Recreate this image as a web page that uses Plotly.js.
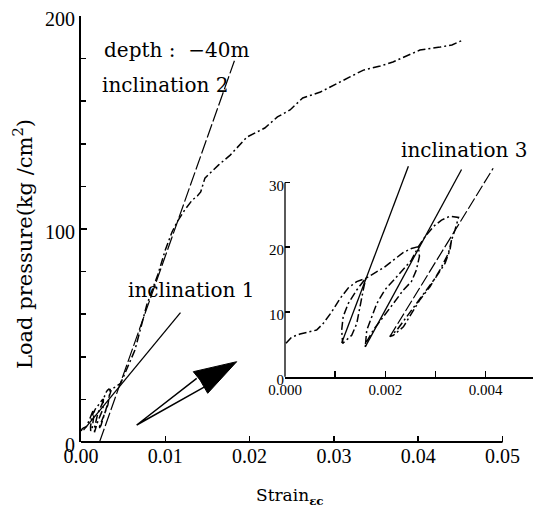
<!DOCTYPE html>
<html>
<head>
<meta charset="utf-8">
<script src="https://cdn.plot.ly/plotly-3.0.1.min.js"></script>
<style>html,body{margin:0;padding:0;background:#fff;}#chart{width:533px;height:508px;}</style>
</head>
<body>
<div id="chart"></div>
<script>
// Early loading / unloading loops (strain, load pressure kg/cm2) — shown in inset and main plot
var loopX = [0.00002,0.00013,0.0003,0.0005,0.00063,0.00076,0.00093,0.0011,0.00126,0.00143,0.00161,
  0.00156,0.0015,0.00143,0.00133,0.0012,0.00115,
  0.00113,0.00116,0.00126,0.00143,0.00156,0.00161,
  0.00176,0.00196,0.00216,0.00236,0.00252,0.00266,
  0.00268,0.00262,0.00252,0.00236,0.00216,0.00196,0.00176,0.00161,
  0.0016,0.00163,0.00173,0.00183,0.00199,0.00216,0.00236,0.00252,0.00266,
  0.00279,0.00296,0.00312,0.00329,0.00346,
  0.00339,0.00332,0.00329,0.00319,0.00302,0.00282,0.00262,0.00243,0.00223,0.00209,
  0.00216,0.00236,0.00252,0.00269,0.00289,0.00309,0.00326,0.00332];
var loopY = [5.15,6.1,6.6,6.9,7.2,8.2,10.0,12.1,13.7,14.7,15.2,
  13.4,10.8,8.2,6.4,5.6,5.15,
  7.2,9.3,11.3,13.4,14.7,15.2,
  15.9,16.8,18.0,19.2,19.8,20.1,
  18.6,16.5,14.7,13.4,11.3,9.3,7.2,5.15,
  4.6,7.2,9.3,11.3,13.4,14.9,16.5,18.0,20.1,
  21.6,23.2,24.2,24.8,24.6,
  22.7,21.1,19.6,17.5,15.5,13.4,11.3,9.3,7.2,6.2,
  6.4,7.7,9.8,11.9,13.9,16.5,19.1,21.1];
// Continuation of the loading curve up to failure
var envX = [0.0036,0.0042,0.0047,0.0064,0.0078,0.0091,0.0100,0.0108,0.0114,0.0123,0.0132,0.0138,0.0142,
  0.0147,0.0153,0.0163,0.0177,0.0197,0.0218,0.0233,0.0248,0.0263,0.0284,0.0304,0.0319,0.0335,
  0.0355,0.0370,0.0390,0.0402,0.0426,0.0440,0.0453];
var envY = [24.5,26.3,27.5,43.2,64.3,78.4,90.1,98.6,103.3,108.9,113.6,115.5,117.4,
  123.9,126.3,130.0,134.7,143.2,147.4,152.6,155.9,161.5,164.3,168.5,171.4,174.6,
  176.5,178.4,181.7,184.0,185.4,186.4,188.7];
// Tangent lines
var incl1X = [0.0003, 0.0118], incl1Y = [5.6, 60.7];
var incl2X = [0.0022, 0.0182], incl2Y = [0, 179];
var incl3aX = [0.00113, 0.00246], incl3aY = [5.2, 32.5];
var incl3bX = [0.0016, 0.00352], incl3bY = [4.6, 32.0];
var incl3cX = [0.00209, 0.00415], incl3cY = [6.2, 32.2];
// Axis ticks (labels every dtick, minor ticks between)
var mainXStep = 0.01, mainYStep = 100, mainYMinor = 20;
var insetXStep = 0.002, insetXMinor = 0.001, insetYStep = 10;

var serif = 'DejaVu Serif, serif';
var tickSerif = 'Liberation Serif, serif';
var curveLine = {color:'#000', width:1.5, dash:'8px,3px,2px,3px'};

var mainCurveX = loopX.concat(envX), mainCurveY = loopY.concat(envY);

var traces = [
  {x: mainCurveX, y: mainCurveY, mode:'lines', line: curveLine, xaxis:'x', yaxis:'y'},
  {x: incl1X, y: incl1Y, mode:'lines', line:{color:'#000', width:1.3}, xaxis:'x', yaxis:'y'},
  {x: incl2X, y: incl2Y, mode:'lines', line:{color:'#000', width:1.2, dash:'14px,3px'}, xaxis:'x', yaxis:'y'},
  {x: loopX, y: loopY, mode:'lines', line: curveLine, xaxis:'x2', yaxis:'y2'},
  {x: incl3aX, y: incl3aY, mode:'lines', line:{color:'#000', width:1.3}, xaxis:'x2', yaxis:'y2'},
  {x: incl3bX, y: incl3bY, mode:'lines', line:{color:'#000', width:1.3}, xaxis:'x2', yaxis:'y2'},
  {x: incl3cX, y: incl3cY, mode:'lines', line:{color:'#000', width:1.2, dash:'12px,3px'}, xaxis:'x2', yaxis:'y2'}
];

var W = 533, H = 508, ML = 81, MR = 0, MT = 16, MB = 66;
var pw = W - ML - MR, ph = H - MT - MB;
function px2paper(p){ return [(p[0]-ML)/pw, (H-MB-p[1])/ph]; }
function pathFrom(pts, close){
  var s = pts.map(function(p,i){ var q = px2paper(p); return (i?'L':'M') + q[0].toFixed(5) + ',' + q[1].toFixed(5); }).join(' ');
  return close ? s + ' Z' : s;
}
var xMax = (W - MR - ML) / 8430;   // main x-axis: 84.3 px per 0.01
var insetLeft = 285, insetXMax = (W - insetLeft) / 50160;
var insetBottom = 376.7, insetPxPerUnit = 6.473, insetYTop = 33, insetAxisTop = 30;
var insetTopPx = insetBottom - insetYTop * insetPxPerUnit;
var insetAxisTopPx = insetBottom - insetAxisTop * insetPxPerUnit;

var shapes = [
  // main x-axis line, ending at 0.05
  {type:'line', xref:'paper', yref:'paper', x0:0, x1:0.05/xMax, y0:0, y1:0, line:{color:'#000', width:2}},
  // inset y-axis line, 0..30
  {type:'line', xref:'paper', yref:'paper', x0:(insetLeft-ML)/pw, x1:(insetLeft-ML)/pw,
   y0:(H-MB-insetBottom)/ph, y1:(H-MB-insetAxisTopPx)/ph, line:{color:'#000', width:1.3}},
  // arrow shaft (hollow wedge)
  {type:'path', xref:'paper', yref:'paper', path: pathFrom([[196.7,378.3],[136.7,425],[205,386.7]], false), line:{color:'#000', width:1.5}},
  // arrow head
  {type:'path', xref:'paper', yref:'paper', path: pathFrom([[236.7,361.7],[193.3,371.7],[200,380],[207.7,393.3]], true), fillcolor:'#000', line:{color:'#000', width:1}}
];

var annFont = {family: serif, size: 20, color:'#000'};
var annotations = [
  {xref:'x', yref:'y', x:0.00249, y:184, xanchor:'left', yanchor:'middle', text:'depth :  −40m', showarrow:false, font:annFont},
  {xref:'x', yref:'y', x:0.00225, y:167.6, xanchor:'left', yanchor:'middle', text:'inclination 2', showarrow:false, font:annFont},
  {xref:'x', yref:'y', x:0.00534, y:71.4, xanchor:'left', yanchor:'middle', text:'inclination 1', showarrow:false, font:annFont},
  {xref:'x', yref:'y', x:0.03772, y:137.1, xanchor:'left', yanchor:'middle', text:'inclination 3', showarrow:false, font:annFont},
  {xref:'paper', yref:'paper', x:(23-ML)/pw, y:(H-MB-244)/ph, xanchor:'center', yanchor:'middle', textangle:-90,
   text:'Load pressure(kg /cm<sup>2</sup>)', showarrow:false, font:{family: serif, size:21, color:'#000'}},
  {xref:'paper', yref:'paper', x:(290-ML)/pw, y:(H-MB-496)/ph, xanchor:'center', yanchor:'middle',
   text:'Strain<sub><b>εc</b></sub>', showarrow:false, font:{family: serif, size:17, color:'#000'}}
];

var tickBase = {ticks:'inside', tickcolor:'#000', showgrid:false, zeroline:false, fixedrange:true};
var layout = {
  width: W, height: H,
  margin: {l: ML, r: MR, t: MT, b: MB, pad: 0},
  paper_bgcolor: '#fff', plot_bgcolor: 'rgba(0,0,0,0)',
  showlegend: false,
  xaxis: Object.assign({}, tickBase, {range:[0, xMax], showline:false,
    tickmode:'linear', tick0:0, dtick: mainXStep, tickformat:'.2f', ticklen:6, tickwidth:1.5,
    tickfont:{family: tickSerif, size:20, color:'#000'}}),
  yaxis: Object.assign({}, tickBase, {range:[0, 200], showline:true, linewidth:2, linecolor:'#000',
    tickmode:'linear', tick0:0, dtick: mainYStep, ticklen:6, tickwidth:1.5, ticklabelshift:3,
    minor:{tick0:0, dtick: mainYMinor, ticks:'inside', ticklen:5, tickwidth:1.5, tickcolor:'#000', showgrid:false},
    tickfont:{family: tickSerif, size:20, color:'#000'}}),
  xaxis2: Object.assign({}, tickBase, {domain:[(insetLeft-ML)/pw, 1], anchor:'y2', range:[0, insetXMax],
    showline:true, linewidth:2, linecolor:'#000',
    tickmode:'linear', tick0:0, dtick: insetXStep, tickformat:'.3f', ticklen:6, tickwidth:1.5,
    minor:{tick0:0, dtick: insetXMinor, ticks:'inside', ticklen:6, tickwidth:1.5, tickcolor:'#000', showgrid:false},
    ticklabelstandoff:-2,
    tickfont:{family: tickSerif, size:15, color:'#000'}}),
  yaxis2: Object.assign({}, tickBase, {domain:[(H-MB-insetBottom)/ph, (H-MB-insetTopPx)/ph], anchor:'x2', range:[0, insetYTop],
    showline:false, ticklabelshift:3,
    tickmode:'linear', tick0:0, dtick: insetYStep, ticklen:5, tickwidth:1.5,
    tickfont:{family: tickSerif, size:15, color:'#000'}}),
  shapes: shapes,
  annotations: annotations
};

Plotly.newPlot('chart', traces, layout, {displayModeBar:false, staticPlot:true});
</script>
</body>
</html>
